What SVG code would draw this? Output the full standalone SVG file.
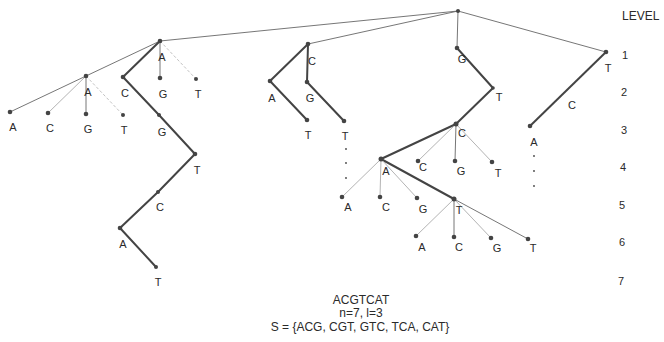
<svg xmlns="http://www.w3.org/2000/svg" width="664" height="342" viewBox="0 0 664 342">
<style>
text{font-family:"Liberation Sans",Arial,sans-serif;font-size:11px;fill:#2a2a2a;text-anchor:middle}
.thin{stroke:#666;stroke-width:0.9;fill:none}
.light{stroke:#aaa;stroke-width:0.9;fill:none}
.dash{stroke:#bbb;stroke-width:0.9;fill:none;stroke-dasharray:3,2}
.thick{stroke:#444;stroke-width:2;fill:none;stroke-linejoin:round}
.dot{fill:#444}
.lvl{text-anchor:start;font-size:11px}
.cap{font-size:12px}
</style>
<rect width="664" height="342" fill="#fff"/>
<g id="connectors">
<line class="thin" x1="458" y1="11" x2="160" y2="41"/>
<line class="thin" x1="458" y1="11" x2="308" y2="44"/>
<line class="thin" x1="458" y1="11" x2="457" y2="48"/>
<line class="thin" x1="458" y1="11" x2="606" y2="52"/>
<line class="thin" x1="160" y1="41" x2="86" y2="76"/>
<line class="thin" x1="160" y1="41" x2="160" y2="78"/>
<line class="dash" x1="160" y1="41" x2="196" y2="79"/>
<line class="thin" x1="86" y1="76" x2="10" y2="112"/>
<line class="light" x1="86" y1="76" x2="48" y2="113"/>
<line class="thin" x1="86" y1="76" x2="86" y2="114"/>
<line class="dash" x1="86" y1="76" x2="123" y2="115"/>
<polyline class="thick" points="160,41 123,77 159,115 195,154 158,192 120,228 156,267"/>
<polyline class="thick" points="307,120 270,81 308,44 307,82 344,121"/>
<polyline class="thick" points="457,48 493,88 456,124 381,159 454,199"/>
<line class="thick" x1="606" y1="52" x2="530" y2="126"/>
<line class="light" x1="456" y1="124" x2="418" y2="161"/>
<line class="thin" x1="456" y1="124" x2="455" y2="161"/>
<line class="light" x1="456" y1="124" x2="492" y2="162"/>
<line class="light" x1="381" y1="159" x2="342" y2="197"/>
<line class="light" x1="381" y1="159" x2="380" y2="197"/>
<line class="light" x1="381" y1="159" x2="417" y2="198"/>
<line class="light" x1="454" y1="199" x2="416" y2="236"/>
<line class="thin" x1="454" y1="199" x2="454" y2="237"/>
<line class="light" x1="454" y1="199" x2="491" y2="238"/>
<line class="thin" x1="454" y1="199" x2="528" y2="239"/>
</g>
<g id="root"><circle class="dot" cx="458" cy="11" r="2"/></g>
<g id="n1A"><circle class="dot" cx="160" cy="41" r="2.3"/><text x="162" y="61">A</text></g>
<g id="n1C"><circle class="dot" cx="308" cy="44" r="2.3"/><text x="312" y="65">C</text></g>
<g id="n1G"><circle class="dot" cx="457" cy="48" r="2.3"/><text x="462" y="63">G</text></g>
<g id="n1T"><circle class="dot" cx="606" cy="52" r="2.3"/><text x="608" y="72">T</text></g>
<g id="n2AA"><circle class="dot" cx="86" cy="76" r="2.3"/><text x="88" y="96">A</text></g>
<g id="n2AC"><circle class="dot" cx="123" cy="77" r="2.3"/><text x="125" y="97">C</text></g>
<g id="n2AG"><circle class="dot" cx="160" cy="78" r="2.3"/><text x="163" y="98">G</text></g>
<g id="n2AT"><circle class="dot" cx="196" cy="79" r="2"/><text x="198" y="98">T</text></g>
<g id="n3AAA"><circle class="dot" cx="10" cy="112" r="2.3"/><text x="13" y="131">A</text></g>
<g id="n3AAC"><circle class="dot" cx="48" cy="113" r="2.3"/><text x="50" y="132">C</text></g>
<g id="n3AAG"><circle class="dot" cx="86" cy="114" r="2.3"/><text x="88" y="133">G</text></g>
<g id="n3AAT"><circle class="dot" cx="123" cy="115" r="2"/><text x="124" y="134">T</text></g>
<g id="n3ACG"><circle class="dot" cx="159" cy="115" r="2"/><text x="162" y="136">G</text></g>
<g id="n4T"><circle class="dot" cx="195" cy="154" r="2.3"/><text x="197" y="174">T</text></g>
<g id="n5C"><circle class="dot" cx="158" cy="192" r="2"/><text x="160" y="211">C</text></g>
<g id="n6A"><circle class="dot" cx="120" cy="228" r="2.3"/><text x="123" y="248">A</text></g>
<g id="n7T"><circle class="dot" cx="156" cy="267" r="2"/><text x="158" y="286">T</text></g>
<g id="n2CA"><circle class="dot" cx="270" cy="81" r="2.3"/><text x="272" y="102">A</text></g>
<g id="n2CG"><circle class="dot" cx="307" cy="82" r="2.3"/><text x="310" y="102">G</text></g>
<g id="n3CAT"><circle class="dot" cx="307" cy="120" r="2.3"/><text x="308" y="139">T</text></g>
<g id="n3CGT"><circle class="dot" cx="344" cy="121" r="2.3"/><text x="345" y="140">T</text>
<circle class="dot" cx="346" cy="149" r="0.9"/><circle class="dot" cx="346" cy="163" r="0.9"/><circle class="dot" cx="346" cy="178" r="0.9"/></g>
<g id="n2GT"><circle class="dot" cx="493" cy="88" r="1.8"/><text x="499" y="101">T</text></g>
<g id="n3GTC"><circle class="dot" cx="456" cy="124" r="2.5"/><text x="462" y="137">C</text></g>
<g id="n4A"><circle class="dot" cx="381" cy="159" r="2.5"/><text x="386" y="175">A</text></g>
<g id="n4C"><circle class="dot" cx="418" cy="161" r="2.3"/><text x="423" y="171">C</text></g>
<g id="n4G"><circle class="dot" cx="455" cy="161" r="2.3"/><text x="461" y="175">G</text></g>
<g id="n4T2"><circle class="dot" cx="492" cy="162" r="2.3"/><text x="498" y="177">T</text></g>
<g id="n5A"><circle class="dot" cx="342" cy="197" r="2.3"/><text x="348" y="211">A</text></g>
<g id="n5C2"><circle class="dot" cx="380" cy="197" r="2.3"/><text x="386" y="211">C</text></g>
<g id="n5G"><circle class="dot" cx="417" cy="198" r="2.3"/><text x="423" y="213">G</text></g>
<g id="n5T"><circle class="dot" cx="454" cy="199" r="2.5"/><text x="459" y="214">T</text></g>
<g id="n6A2"><circle class="dot" cx="416" cy="236" r="2.3"/><text x="422" y="251">A</text></g>
<g id="n6C"><circle class="dot" cx="454" cy="237" r="2.3"/><text x="459" y="251">C</text></g>
<g id="n6G"><circle class="dot" cx="491" cy="238" r="2.3"/><text x="497" y="252">G</text></g>
<g id="n6T"><circle class="dot" cx="528" cy="239" r="2.3"/><text x="533" y="252">T</text></g>
<g id="n3TA"><circle class="dot" cx="530" cy="126" r="2.3"/><text x="534" y="146">A</text><text x="572" y="109">C</text>
<circle class="dot" cx="534" cy="156" r="0.9"/><circle class="dot" cx="534" cy="171" r="0.9"/><circle class="dot" cx="534" cy="186" r="0.9"/></g>
<g id="levels">
<text class="lvl" x="622" y="20" style="font-size:12px">LEVEL</text>
<text class="lvl" x="622" y="59">1</text>
<text class="lvl" x="621" y="96">2</text>
<text class="lvl" x="621" y="134">3</text>
<text class="lvl" x="620" y="171">4</text>
<text class="lvl" x="619" y="209">5</text>
<text class="lvl" x="619" y="246">6</text>
<text class="lvl" x="618" y="285">7</text>
</g>
<g id="caption">
<text class="cap" x="361" y="304">ACGTCAT</text>
<text class="cap" x="361" y="317">n=7, l=3</text>
<text class="cap" x="360" y="331">S = {ACG, CGT, GTC, TCA, CAT}</text>
</g>
</svg>
